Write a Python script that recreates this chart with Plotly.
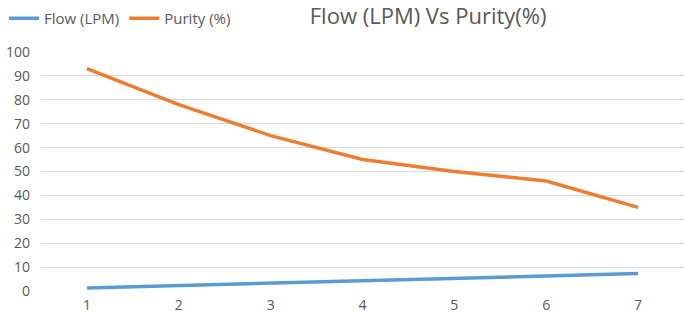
import plotly.graph_objects as go

categories = [1, 2, 3, 4, 5, 6, 7]
flow_lpm = [1.3, 2.3, 3.3, 4.3, 5.3, 6.3, 7.3]
purity_pct = [93, 78, 65, 55, 50, 46, 35]
y_ticks = [0, 10, 20, 30, 40, 50, 60, 70, 80, 90, 100]

FONT = "Open Sans"
GREY = "#595959"

fig = go.Figure()
fig.add_trace(go.Scatter(x=categories, y=flow_lpm, mode="lines", name="Flow (LPM)",
                         line=dict(color="#5b9bd5", width=3.5)))
fig.add_trace(go.Scatter(x=categories, y=purity_pct, mode="lines", name="Purity (%)",
                         line=dict(color="#ed7d31", width=3.5)))

fig.update_layout(
    width=685, height=318,
    margin=dict(l=41, r=1, t=52, b=27, autoexpand=False),
    paper_bgcolor="white", plot_bgcolor="white",
    font=dict(family=FONT, color=GREY, size=14),
    title=dict(text="Flow (LPM) Vs Purity(%)", x=0.625, xanchor="center",
               y=1 - 16 / 318, yanchor="middle", automargin=False,
               font=dict(family=FONT, size=22, color=GREY)),
    showlegend=True,
    legend=dict(orientation="h", xref="container", yref="container",
                x=4 / 685, y=1 - 2 / 318, xanchor="left", yanchor="top",
                font=dict(family=FONT, size=15, color=GREY),
                itemwidth=30, tracegroupgap=0, bgcolor="rgba(0,0,0,0)"),
    xaxis=dict(range=[0.5, 7.5], tickmode="array", tickvals=categories,
               ticktext=[str(c) for c in categories], showgrid=False,
               zeroline=False, showline=False, ticks="", ticklabelstandoff=4,
               automargin=False, tickfont=dict(size=14, color=GREY)),
    yaxis=dict(range=[0, 100], tickmode="array", tickvals=y_ticks,
               showgrid=True, gridcolor="#d9d9d9", gridwidth=1,
               zeroline=False, showline=False, ticks="", ticklabelstandoff=10,
               automargin=False, tickfont=dict(size=14, color=GREY)),
)

fig.write_html("out.html", config={"displayModeBar": False},
               post_script="document.body.style.margin='0px';document.body.style.overflow='hidden';")
